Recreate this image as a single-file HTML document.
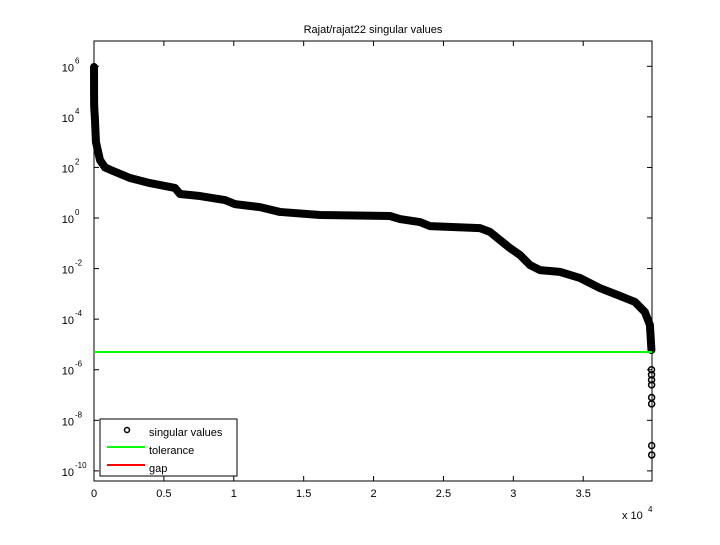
<!DOCTYPE html>
<html><head><meta charset="utf-8"><style>
body{margin:0;background:#fff}
svg text{font-family:"Liberation Sans",sans-serif;font-size:11px;fill:#000}
</style></head><body>
<svg id="c" width="720" height="540" xmlns="http://www.w3.org/2000/svg">
<rect width="720" height="540" fill="#fff"/>
<text x="373" y="33" text-anchor="middle">Rajat/rajat22 singular values</text>
<g id="plot"></g>
</svg>
<script>
const idx=[1,2,3,4,5,6,10,70,140,430,790,1360,2580,4000,5790,6150,7580,9370,10090,11870,13300,16170,21170,21890,23320,24030,27610,28330,29040,29760,30470,31190,31900,33330,34760,36190,37620,38700,39410,39770,39880];
const logSv=[5.97,5.85,5.45,5.34,5.06,4.86,4.47,3.87,3.0,2.29,2.0,1.86,1.58,1.38,1.19,0.95,0.87,0.71,0.55,0.43,0.24,0.12,0.08,-0.04,-0.16,-0.32,-0.40,-0.55,-0.87,-1.19,-1.46,-1.86,-2.06,-2.13,-2.37,-2.77,-3.08,-3.32,-3.72,-4.23,-5.22];
const tailIdx=[39885,39887,39889,39891,39893,39895,39897,39899];
const tailLog=[-6.0,-6.2,-6.4,-6.6,-7.1,-7.35,-9.0,-9.37];
const tolLog=-5.3;
const xTicks=[0,0.5,1,1.5,2,2.5,3,3.5];
const yTicks=[6,4,2,0,-2,-4,-6,-8,-10];
const L=94,T=41,R=652,B=481,XMAX=39920,YMIN=-10.4,YMAX=7;
const sx=v=>L+v/XMAX*(R-L), sy=v=>T+(YMAX-v)/(YMAX-YMIN)*(B-T);
const NS="http://www.w3.org/2000/svg",g=document.getElementById('plot');
function mk(t,a,p){const e=document.createElementNS(NS,t);for(const k in a)e.setAttribute(k,a[k]);(p||g).appendChild(e);return e;}
// axes box
const box=mk('rect',{x:L,y:T,width:R-L,height:B-T,fill:'none',stroke:'#000','stroke-width':1});


xTicks.forEach(t=>{const x=sx(t*1e4);
mk('line',{x1:x,y1:B,x2:x,y2:B-5,stroke:'#000'});mk('line',{x1:x,y1:T,x2:x,y2:T+5,stroke:'#000'});
const tx=mk('text',{x:x,y:B+16,'text-anchor':'middle'});tx.textContent=String(t);

});
yTicks.forEach(t=>{const y=sy(t);
mk('line',{x1:L,y1:y,x2:L+5,y2:y,stroke:'#000'});mk('line',{x1:R,y1:y,x2:R-5,y2:y,stroke:'#000'});
const tx=mk('text',{x:74,y:y+5,'text-anchor':'end'});tx.textContent='10';


const ex=mk('text',{x:75,y:y-3,'font-size':'8'});ex.textContent=String(t);ex.style.fontSize='8px';});
const xm=mk('text',{x:622,y:519});xm.textContent='x 10';


const xe=mk('text',{x:648,y:512});xe.textContent='4';xe.style.fontSize='8px';
// series
const pts=idx.map((v,i)=>sx(v)+','+sy(logSv[i])).join(' ');
const pl=mk('polyline',{points:pts,fill:'none',stroke:'#000','stroke-width':8,'stroke-linejoin':'round','stroke-linecap':'round'});


idx.concat(tailIdx).forEach((v,i)=>{const lv=i<idx.length?logSv[i]:tailLog[i-idx.length];
const c=mk('circle',{cx:sx(v),cy:sy(lv),r:3,fill:'none',stroke:'#000','stroke-width':1.5});

});
const tl=mk('line',{x1:L,y1:sy(tolLog),x2:R,y2:sy(tolLog),stroke:'#00ff00','stroke-width':2});


// legend
const lg=mk('g',{});


mk('rect',{x:100,y:419,width:137,height:57,fill:'#fff',stroke:'#000'},lg);
mk('circle',{cx:127,cy:430,r:2.5,fill:'none',stroke:'#000','stroke-width':1.5},lg);
let t1=mk('text',{x:149,y:436},lg);t1.textContent='singular values';
mk('line',{x1:107,y1:447,x2:145,y2:447,stroke:'#00ff00','stroke-width':2},lg);
let t2=mk('text',{x:149,y:454},lg);t2.textContent='tolerance';
mk('line',{x1:107,y1:465,x2:145,y2:465,stroke:'#ff0000','stroke-width':2},lg);
let t3=mk('text',{x:149,y:472},lg);t3.textContent='gap';
</script>
</body></html>
